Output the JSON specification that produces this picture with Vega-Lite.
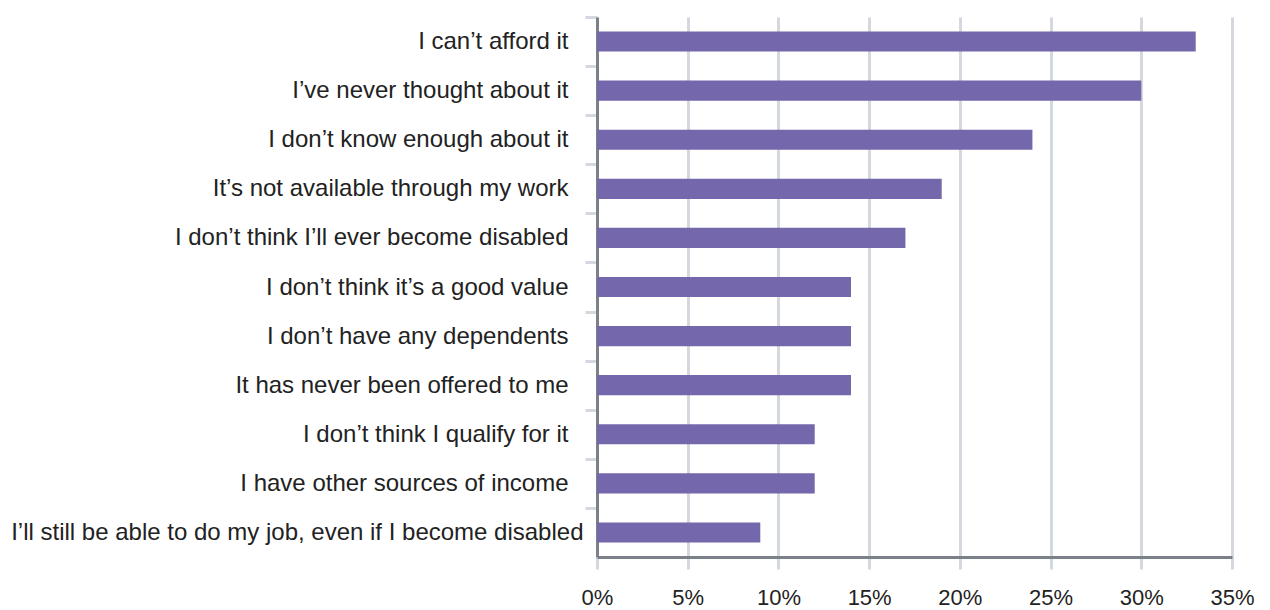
{
  "$schema": "https://vega.github.io/schema/vega-lite/v6.json",
  "autosize": "none",
  "width": 635,
  "height": 540,
  "padding": {"left": 597, "top": 17, "right": 38, "bottom": 53},
  "background": "white",
  "config": {
    "view": {"stroke": null},
    "font": "Liberation Sans"
  },
  "data": {
    "values": [
      {"reason": "I can’t afford it", "share": 0.33},
      {"reason": "I’ve never thought about it", "share": 0.30},
      {"reason": "I don’t know enough about it", "share": 0.24},
      {"reason": "It’s not available through my work", "share": 0.19},
      {"reason": "I don’t think I’ll ever become disabled", "share": 0.17},
      {"reason": "I don’t think it’s a good value", "share": 0.14},
      {"reason": "I don’t have any dependents", "share": 0.14},
      {"reason": "It has never been offered to me", "share": 0.14},
      {"reason": "I don’t think I qualify for it", "share": 0.12},
      {"reason": "I have other sources of income", "share": 0.12},
      {"reason": "I’ll still be able to do my job, even if I become disabled", "share": 0.09}
    ]
  },
  "mark": {"type": "bar", "color": "#7467ab"},
  "encoding": {
    "y": {
      "field": "reason",
      "type": "nominal",
      "sort": null,
      "title": null,
      "scale": {"paddingInner": 0.59, "paddingOuter": 0.295},
      "axis": {
        "domainColor": "#7a8189",
        "domainWidth": 3,
        "bandPosition": 0,
        "tickOffset": -14.5,
        "labelOffset": 14.5,
        "tickColor": "#d3d9de",
        "tickWidth": 3,
        "tickSize": 12,
        "labelPadding": {"condition": {"test": "datum.value == 'I’ll still be able to do my job, even if I become disabled'", "value": 2}, "value": 17},
        "labelFontSize": 24,
        "labelColor": "#222222",
        "labelLimit": 700,
        "grid": false
      }
    },
    "x": {
      "field": "share",
      "type": "quantitative",
      "title": null,
      "scale": {"domain": [0, 0.35], "nice": false},
      "axis": {
        "values": [0, 0.05, 0.1, 0.15, 0.2, 0.25, 0.3, 0.35],
        "format": ".0%",
        "grid": true,
        "gridColor": "#d3d9de",
        "gridWidth": 3,
        "domainColor": "#7a8189",
        "domainWidth": 3,
        "tickColor": "#d3d9de",
        "tickWidth": 3,
        "tickSize": 12,
        "labelPadding": 18,
        "labelFontSize": 22,
        "labelColor": "#222222",
        "labelFlush": false
      }
    }
  }
}
